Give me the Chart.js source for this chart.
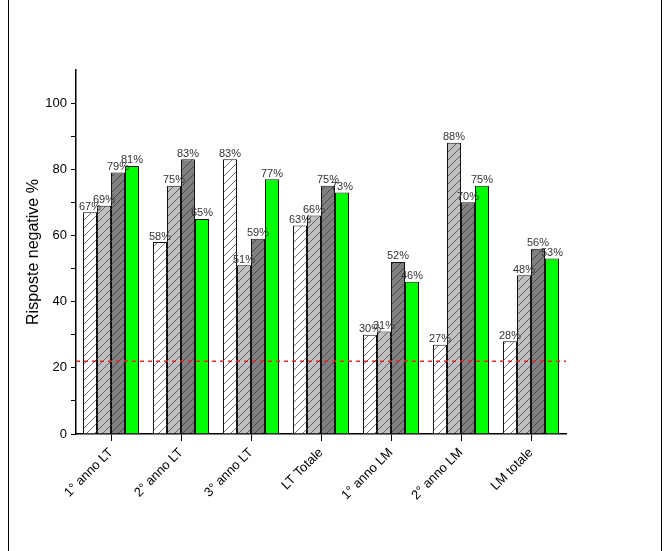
<!DOCTYPE html>
<html>
<head>
<meta charset="utf-8">
<script src="https://cdn.jsdelivr.net/npm/chart.js@4"></script>
<style>
  body { margin: 0; background: #fff; }
  #wrap { position: relative; width: 667px; height: 551px; }
  .edge { position: absolute; top: 0; width: 1px; height: 551px; background: #000; }
</style>
</head>
<body>
<div id="wrap">
  <canvas id="chart" width="667" height="551"></canvas>
  <div class="edge" style="left:8px"></div>
  <div class="edge" style="left:661px"></div>
</div>
<script>
var categories = ["1° anno LT", "2° anno LT", "3° anno LT", "LT Totale", "1° anno LM", "2° anno LM", "LM totale"];
var seriesA = [67, 58, 83, 63, 30, 27, 28];
var seriesB = [69, 75, 51, 66, 31, 88, 48];
var seriesC = [79, 83, 59, 75, 52, 70, 56];
var seriesD = [81, 65, 77, 73, 46, 75, 53];
var threshold = 22;

function hatch(bg) {
    var c = document.createElement("canvas");
    c.width = 8; c.height = 8;
    var g = c.getContext("2d");
    g.fillStyle = bg;
    g.fillRect(0, 0, 8, 8);
    g.strokeStyle = "#333";
    g.lineWidth = 0.7;
    g.beginPath();
    g.moveTo(0, 8); g.lineTo(8, 0);
    g.moveTo(-2, 2); g.lineTo(2, -2);
    g.moveTo(6, 10); g.lineTo(10, 6);
    g.stroke();
    return g.createPattern(c, "repeat");
}

var extras = {
    id: "extras",
    afterDatasetsDraw: function(chart) {
        var ctx = chart.ctx, a = chart.chartArea;
        var y = chart.scales.y.getPixelForValue(threshold);
        ctx.save();
        ctx.strokeStyle = "#e8262a";
        ctx.lineWidth = 1.5;
        ctx.setLineDash([4, 4]);
        ctx.beginPath();
        ctx.moveTo(a.left, y); ctx.lineTo(a.right, y);
        ctx.stroke();
        ctx.setLineDash([]);
        ctx.font = "11px 'Liberation Sans', Arial";
        ctx.fillStyle = "#333";
        ctx.textAlign = "center";
        ctx.textBaseline = "bottom";
        chart.data.datasets.forEach(function(ds, i) {
            chart.getDatasetMeta(i).data.forEach(function(bar, j) {
                ctx.fillText(ds.data[j] + "%", bar.x, bar.y);
            });
        });
        ctx.restore();
    }
};

function makeSet(data, bg) {
    return { data: data, backgroundColor: bg, borderColor: "#111", borderWidth: 1,
             categoryPercentage: 0.8, barPercentage: 1 };
}

new Chart(document.getElementById("chart"), {
    type: "bar",
    data: {
        labels: categories,
        datasets: [
            makeSet(seriesA, hatch("#ffffff")),
            makeSet(seriesB, hatch("#c0c0c0")),
            makeSet(seriesC, hatch("#808080")),
            makeSet(seriesD, "#00ff00")
        ]
    },
    options: {
        responsive: false,
        animation: false,
        layout: { padding: { top: 70, right: 101, left: 20, bottom: 0 } },
        plugins: { legend: { display: false }, tooltip: { enabled: false } },
        scales: {
            x: {
                afterFit: function(s) { s.height = 117; },
                grid: { display: true, drawOnChartArea: false, offset: false, tickLength: 7, color: "#000" },
                border: { color: "#000", width: 1.5 },
                ticks: { minRotation: 45, maxRotation: 45, color: "#000", padding: 4,
                         font: { family: "'Liberation Sans', Arial", size: 13 } }
            },
            y: {
                min: 0, max: 110,
                afterFit: function(s) { s.width = 56; },
                grid: { drawOnChartArea: false, tickLength: 5,
                        color: function(c) { return c.tick && c.tick.value === 110 ? "rgba(0,0,0,0)" : "#000"; } },
                border: { color: "#000", width: 1.5 },
                ticks: { stepSize: 10, color: "#000", padding: 4,
                         font: { family: "'Liberation Sans', Arial", size: 13 },
                         callback: function(v) { return (v % 20 === 0 && v <= 100) ? v : ""; } },
                title: { display: true, text: "Risposte negative %", color: "#000",
                         font: { family: "'Liberation Sans', Arial", size: 16 } }
            }
        }
    },
    plugins: [extras]
});
</script>
</body>
</html>
